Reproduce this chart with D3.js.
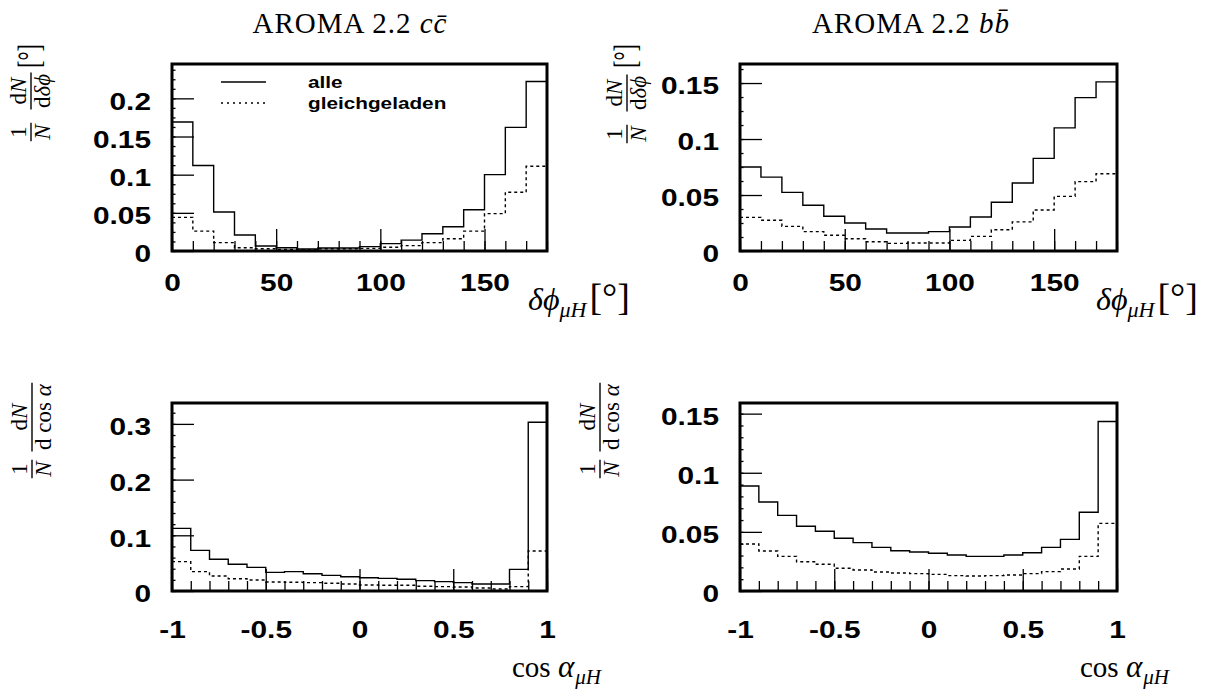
<!DOCTYPE html>
<html>
<head>
<script src="https://d3js.org/d3.v7.min.js"></script>
<style>
body { margin: 0; background: white; }
.ticks text { font-family: "Liberation Sans", Arial, sans-serif; font-weight: bold; font-size: 23.5px; fill: black; }
.ticks line { stroke: black; stroke-width: 1.3px; }
.tex { font-family: "Liberation Serif", "DejaVu Serif", serif; fill: black; }
.frame { fill: none; stroke: black; stroke-width: 3px; }
.hist { fill: none; stroke: black; stroke-width: 1.4px; }
.same { stroke-dasharray: 3,3; }
.legend { font-family: "Liberation Sans", Arial, sans-serif; font-weight: bold; font-size: 17px; }
</style>
</head>
<body>
<svg id="chart" width="1214" height="690"></svg>
<script>
// bin edges
const phiEdges = d3.range(19).map(i => i * 10);
const cosEdges = d3.range(21).map(i => -1 + i * 0.1);

// tick labels
const phiTicks = [0, 50, 100, 150];
const cosTicks = [-1, -0.5, 0, 0.5, 1];
const yTicksCcPhi = [0, 0.05, 0.1, 0.15, 0.2];
const yTicksBbPhi = [0, 0.05, 0.1, 0.15];
const yTicksCcCos = [0, 0.1, 0.2, 0.3];
const yTicksBbCos = [0, 0.05, 0.1, 0.15];

// AROMA 2.2 c cbar, delta phi
const ccPhiAll  = [0.169, 0.112, 0.051, 0.021, 0.0065, 0.0043, 0.0026, 0.004, 0.004, 0.0057,
                   0.0096, 0.0143, 0.0226, 0.0317, 0.054, 0.100, 0.162, 0.222];
const ccPhiSame = [0.044, 0.026, 0.011, 0.0043, 0.003, 0.002, 0.0017, 0.003, 0.003, 0.0035,
                   0.005, 0.007, 0.011, 0.016, 0.026, 0.049, 0.077, 0.111];

// AROMA 2.2 b bbar, delta phi
const bbPhiAll  = [0.075, 0.066, 0.0524, 0.0408, 0.031, 0.025, 0.0196, 0.0161, 0.0161, 0.0173,
                   0.0214, 0.0304, 0.0435, 0.0607, 0.0827, 0.110, 0.137, 0.151];
const bbPhiSame = [0.030, 0.0274, 0.022, 0.0173, 0.014, 0.011, 0.0083, 0.0068, 0.0071, 0.0071,
                   0.0095, 0.0131, 0.019, 0.026, 0.0366, 0.0488, 0.062, 0.069];

// c cbar, cos alpha
const ccCosAll  = [0.1125, 0.073, 0.0569, 0.0479, 0.0425, 0.0335, 0.0347, 0.0311, 0.0281, 0.0257,
                   0.0239, 0.0227, 0.021, 0.0186, 0.0168, 0.015, 0.0126, 0.0126, 0.0389, 0.303];
const ccCosSame = [0.0527, 0.0347, 0.0269, 0.0221, 0.0197, 0.0162, 0.0156, 0.015, 0.0138, 0.0126,
                   0.0108, 0.0102, 0.0102, 0.0084, 0.0078, 0.0072, 0.0054, 0.0036, 0.0078, 0.0718];

// b bbar, cos alpha
const bbCosAll  = [0.0888, 0.0753, 0.064, 0.0547, 0.0505, 0.0446, 0.0409, 0.0369, 0.0341, 0.033,
                   0.0319, 0.0305, 0.0293, 0.0293, 0.0305, 0.0324, 0.0369, 0.0437, 0.0666, 0.1433];
const bbCosSame = [0.0398, 0.0338, 0.0293, 0.0248, 0.0226, 0.0192, 0.0178, 0.0161, 0.0152, 0.0147,
                   0.0141, 0.013, 0.0127, 0.013, 0.0135, 0.0147, 0.0164, 0.0186, 0.0293, 0.0572];

const legendNames = ["alle", "gleichgeladen"];

const svg = d3.select("svg#chart");

// layout of the four panels
const panels = [
    {edges: phiEdges, all: ccPhiAll, same: ccPhiSame, xTicks: phiTicks, yTicks: yTicksCcPhi,
     yMinor: 0.0125, yMax: 0.245, box: [172, 64, 547, 251], xPad: 23, kind: "phi",
     ytitle: {x: 31, num: 91, one: 132, deg: 56}, xtitle: [528, 310], legend: true},
    {edges: phiEdges, all: bbPhiAll, same: bbPhiSame, xTicks: phiTicks, yTicks: yTicksBbPhi,
     yMinor: 0.0125, yMax: 0.167, box: [740, 64, 1117, 251], xPad: 23, kind: "phi",
     ytitle: {x: 627, num: 93, one: 134, deg: 56}, xtitle: [1096, 310]},
    {edges: cosEdges, all: ccCosAll, same: ccCosSame, xTicks: cosTicks, yTicks: yTicksCcCos,
     yMinor: 0.02, yMax: 0.3375, box: [172, 403, 547, 591], xPad: 30, kind: "cos",
     ytitle: {x: 32, num: 417, one: 469}, xtitle: [512, 677]},
    {edges: cosEdges, all: bbCosAll, same: bbCosSame, xTicks: cosTicks, yTicks: yTicksBbCos,
     yMinor: 0.01, yMax: 0.159, box: [740, 403, 1117, 591], xPad: 30, kind: "cos",
     ytitle: {x: 600, num: 417, one: 469}, xtitle: [1080, 677]}
];

// widen text the way the wide Helvetica of the original looks
function stretch(sel, k) {
    sel.each(function() {
        const w = this.getComputedTextLength();
        if (w > 0) d3.select(this).attr("textLength", w * k).attr("lengthAdjust", "spacingAndGlyphs");
    });
}

// write a list of [text, italic, size, dy, dx] pieces as tspans
function rich(text, pieces) {
    pieces.forEach(p => {
        const t = text.append("tspan").text(p[0]);
        if (p[1]) t.style("font-style", "italic");
        if (p[2]) t.style("font-size", p[2] + "px");
        if (p[3]) t.attr("dy", p[3]);
        if (p[4]) t.attr("dx", p[4]);
    });
    return text;
}

// fraction in a rotated group, centred at local x
function fraction(g, cx, num, den) {
    const n = rich(g.append("text").attr("class", "tex").attr("x", cx).attr("y", -5)
        .attr("text-anchor", "middle").style("font-size", "23px"), num);
    const d = rich(g.append("text").attr("class", "tex").attr("x", cx).attr("y", 19)
        .attr("text-anchor", "middle").style("font-size", "23px"), den);
    const w = Math.max(n.node().getComputedTextLength(), d.node().getComputedTextLength()) + 3;
    g.append("line").attr("x1", cx - w / 2).attr("x2", cx + w / 2)
        .attr("stroke", "black").attr("stroke-width", 1.4);
}

panels.forEach(p => {
    const [x0, y0, x1, y1] = p.box;
    const x = d3.scaleLinear().domain([p.edges[0], p.edges[p.edges.length - 1]]).range([x0, x1]);
    const y = d3.scaleLinear().domain([0, p.yMax]).range([y1, y0]);
    const g = svg.append("g");

    // minor and major y ticks
    const yMinorVals = d3.range(0, p.yMax, p.yMinor);
    g.append("g").attr("class", "ticks").attr("transform", `translate(${x0},0)`)
        .call(d3.axisLeft(y).tickValues(yMinorVals).tickSize(-3.5).tickFormat(""))
        .call(a => a.select(".domain").remove());
    g.append("g").attr("class", "ticks").attr("transform", `translate(${x0},0)`)
        .call(d3.axisLeft(y).tickValues(p.yTicks).tickSize(-22).tickPadding(21).tickFormat(d => String(d)))
        .call(a => a.select(".domain").remove())
        .call(a => a.selectAll("text").attr("dy", "0.46em").call(stretch, 1.27));

    // minor and major x ticks
    g.append("g").attr("class", "ticks").attr("transform", `translate(0,${y1})`)
        .call(d3.axisBottom(x).tickValues(p.edges).tickSize(-10).tickFormat(""))
        .call(a => a.select(".domain").remove());
    g.append("g").attr("class", "ticks").attr("transform", `translate(0,${y1})`)
        .call(d3.axisBottom(x).tickValues(p.xTicks).tickSize(-22).tickPadding(p.xPad).tickFormat(d => String(d)))
        .call(a => a.select(".domain").remove())
        .call(a => a.selectAll("text").call(stretch, 1.27));

    // histograms as steps
    const step = d3.line().x(d => x(d[0])).y(d => y(d[1])).curve(d3.curveStepAfter);
    const pts = vals => p.edges.map((e, i) => [e, vals[Math.min(i, vals.length - 1)]]);
    g.append("path").datum(pts(p.all)).attr("class", "hist").attr("d", step);
    g.append("path").datum(pts(p.same)).attr("class", "hist same").attr("d", step);

    // frame
    g.append("rect").attr("class", "frame")
        .attr("x", x0).attr("y", y0).attr("width", x1 - x0).attr("height", y1 - y0);

    // legend
    if (p.legend) {
        legendNames.forEach((name, i) => {
            const ly = y0 + 18 + i * 21;
            g.append("line").attr("x1", x0 + 49).attr("x2", x0 + 94).attr("y1", ly).attr("y2", ly)
                .attr("stroke", "black").attr("stroke-width", 1.3)
                .attr("stroke-dasharray", i ? "2,4" : null);
            g.append("text").attr("class", "legend").attr("x", x0 + 136).attr("y", ly + 6).text(name)
                .call(stretch, 1.22);
        });
    }

    // x axis title
    const xt = g.append("text").attr("class", "tex")
        .attr("x", p.xtitle[0]).attr("y", p.xtitle[1]);
    if (p.kind === "phi") {
        rich(xt, [["δϕ", true, 32], ["μH", true, 22, 7], ["[°]", false, 38, -7, 3]]);
    } else {
        rich(xt, [["cos ", false, 29], ["α", true, 31], ["μH", true, 21, 7, 1]]);
    }

    // rotated y axis title
    const yt = g.append("g").attr("transform", `translate(${p.ytitle.x},0) rotate(-90)`);
    fraction(yt, -p.ytitle.one, [["1"]], [["N", true]]);
    if (p.kind === "phi") {
        fraction(yt, -p.ytitle.num, [["d"], ["N", true]], [["d"], ["δϕ", true]]);
        yt.append("text").attr("class", "tex").attr("x", -p.ytitle.deg).attr("y", 9)
            .attr("text-anchor", "middle").style("font-size", "32px").text("[°]")
            .attr("textLength", 24).attr("lengthAdjust", "spacingAndGlyphs");
    } else {
        fraction(yt, -p.ytitle.num, [["d"], ["N", true]], [["d cos "], ["α", true]]);
    }
});

// titles above the top panels
const titles = [["c", "c\u0304", 350], ["b", "b\u0304", 911]];
titles.forEach(t => {
    svg.append("text").attr("class", "tex").attr("x", t[2]).attr("y", 33)
        .attr("text-anchor", "middle").style("font-size", "29px").style("letter-spacing", "1px")
        .call(s => rich(s, [["AROMA 2.2 "], [t[0], true], [t[1], true]]));
});
</script>
</body>
</html>
